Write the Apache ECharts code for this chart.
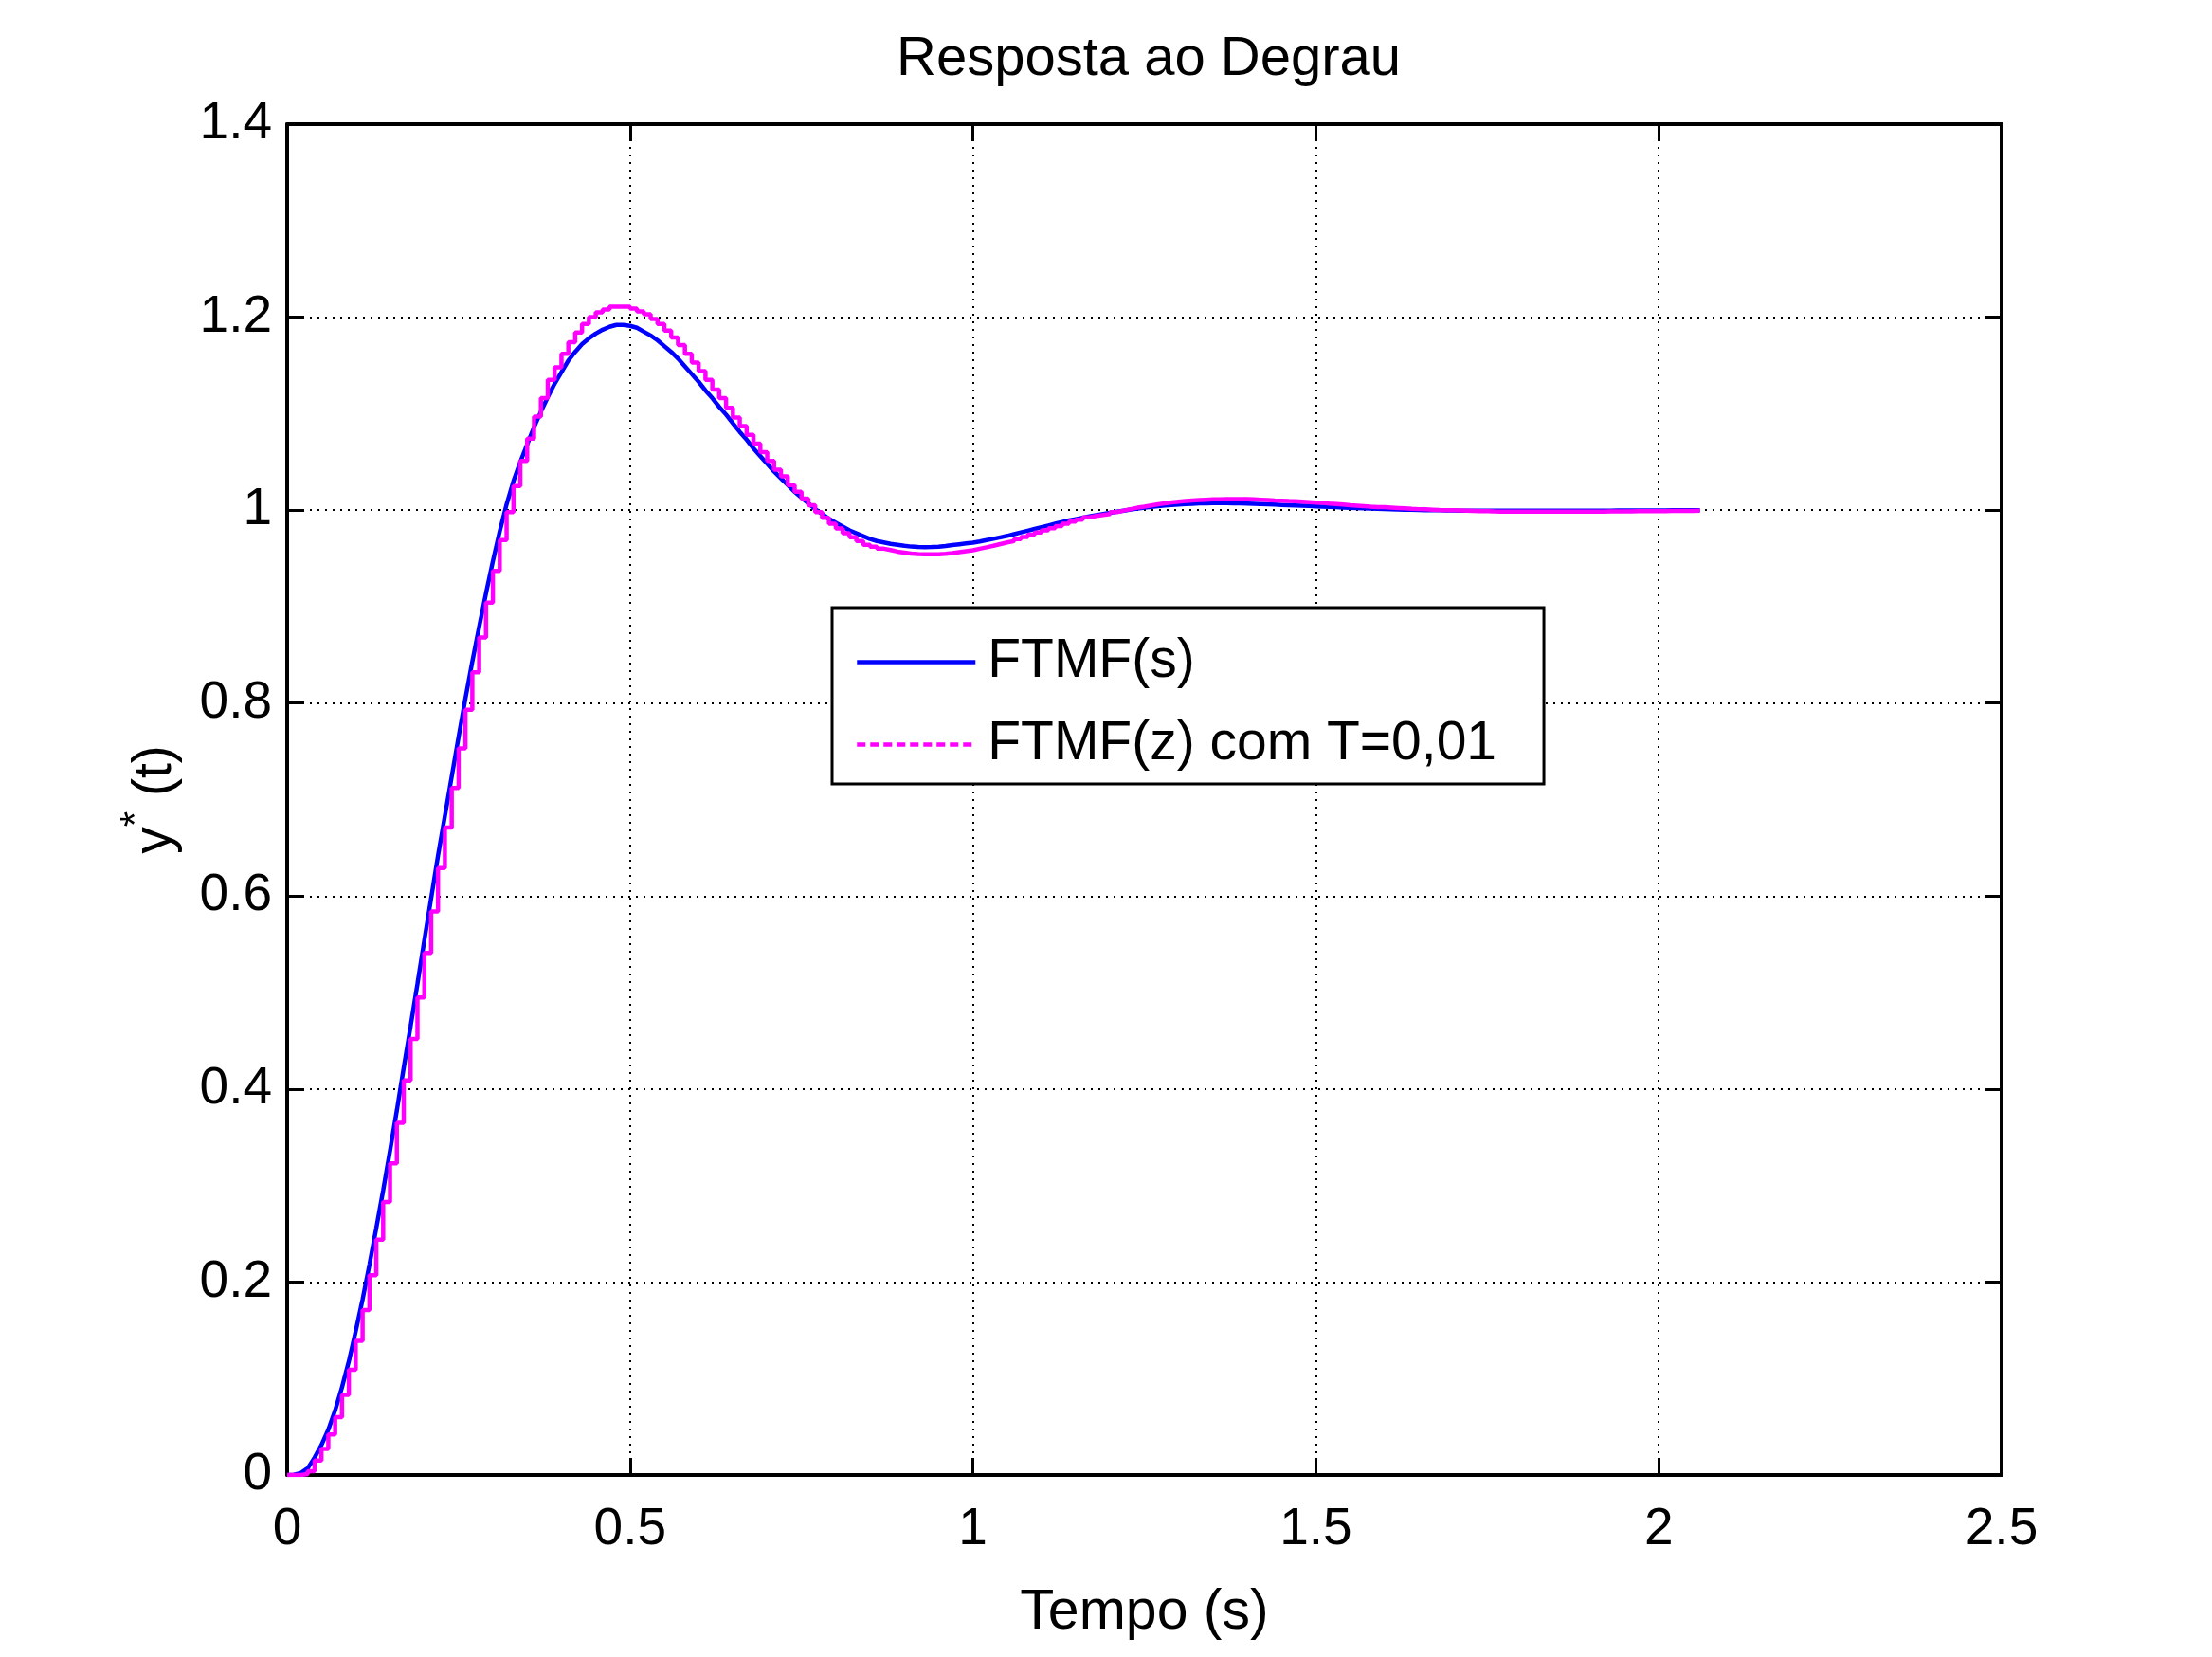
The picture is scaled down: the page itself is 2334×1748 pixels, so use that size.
<!DOCTYPE html>
<html><head><meta charset="utf-8">
<script src="https://cdn.jsdelivr.net/npm/echarts@6/dist/echarts.min.js"></script>
<style>html,body{margin:0;padding:0;background:#fff}#c{width:2334px;height:1748px}</style>
</head><body><div id="c"></div>
<script>
// Sampling period of the discrete response (from legend "T=0,01")
const sampleT = 0.01;

// Axis ticks
const xTicks = [0, 0.5, 1, 1.5, 2, 2.5];
const yTicks = [0, 0.2, 0.4, 0.6, 0.8, 1, 1.2, 1.4];

// Series names
const seriesNames = ['FTMF(s)', 'FTMF(z) com T=0,01'];

// Continuous response y(t), read at t = k*0.01, k = 0..206
const ftmfS = [
  0,0.0003,0.002,0.007,0.018,0.031,0.047,0.067,0.091,0.118,
  0.149,0.182,0.218,0.256,0.295,0.336,0.378,0.422,0.465,0.509,
  0.554,0.598,0.642,0.683,0.724,0.765,0.805,0.843,0.879,0.914,
  0.947,0.978,1.006,1.030,1.050,1.068,1.086,1.102,1.117,1.131,
  1.143,1.155,1.164,1.172,1.178,1.183,1.187,1.190,1.192,1.192,
  1.191,1.189,1.185,1.181,1.176,1.170,1.164,1.157,1.149,1.141,
  1.133,1.124,1.116,1.107,1.099,1.090,1.081,1.073,1.064,1.056,
  1.048,1.040,1.033,1.026,1.019,1.013,1.007,1.001,0.996,0.991,
  0.987,0.983,0.979,0.976,0.973,0.970,0.968,0.9665,0.965,0.964,
  0.963,0.9622,0.9618,0.9617,0.9618,0.962,0.9628,0.9638,0.9646,0.9654,
  0.9662,0.9674,0.9689,0.9703,0.9718,0.9733,0.9751,0.9769,0.9787,0.9805,
  0.9823,0.9841,0.9859,0.9877,0.9893,0.9907,0.9921,0.9935,0.9948,0.996,
  0.9972,0.9984,0.9995,1.0006,1.0016,1.0025,1.0033,1.0041,1.0048,1.0054,
  1.0059,1.0063,1.0066,1.0069,1.0071,1.0072,1.0072,1.0072,1.0071,1.007,
  1.0068,1.0066,1.0063,1.006,1.0057,1.0054,1.0051,1.0048,1.0045,1.0042,
  1.0039,1.0036,1.0033,1.003,1.0027,1.0024,1.0021,1.0018,1.0015,1.0013,
  1.0011,1.0009,1.0007,1.0005,1.0003,1.0001,1.0,0.9999,0.9998,0.9997,
  0.9996,0.9995,0.9995,0.9994,0.9994,0.9994,0.9993,0.9993,0.9993,0.9993,
  0.9993,0.9993,0.9993,0.9993,0.9993,0.9993,0.9994,0.9994,0.9994,0.9994,
  0.9995,0.9995,0.9995,0.9995,0.9996,0.9996,0.9996,0.9996,0.9997,0.9997,
  0.9997,0.9997,0.9998,0.9998,0.9998,0.9998,0.9998
];

// Discrete response y[k], k = 0..206 (held with stairs)
const ftmfZ = [
  0,0,0.001,0.004,0.015,0.027,0.042,0.060,0.083,0.109,
  0.139,0.171,0.207,0.244,0.283,0.323,0.365,0.409,0.452,0.495,
  0.541,0.584,0.629,0.671,0.712,0.753,0.793,0.832,0.868,0.904,
  0.937,0.969,0.998,1.025,1.051,1.074,1.097,1.116,1.135,1.148,
  1.162,1.174,1.184,1.193,1.200,1.205,1.208,1.211,1.211,1.211,
  1.209,1.206,1.203,1.198,1.193,1.186,1.179,1.171,1.162,1.153,
  1.144,1.135,1.125,1.116,1.106,1.096,1.087,1.078,1.069,1.060,
  1.051,1.042,1.035,1.026,1.019,1.012,1.005,0.998,0.992,0.986,
  0.981,0.976,0.972,0.968,0.964,0.962,0.960,0.9586,0.957,0.956,
  0.955,0.9545,0.9543,0.9542,0.9542,0.9548,0.9555,0.9565,0.9575,0.9584,
  0.960,0.9615,0.963,0.9648,0.9665,0.968,0.970,0.9722,0.9745,0.9768,
  0.979,0.9812,0.9835,0.986,0.988,0.990,0.9925,0.994,0.995,0.996,
  0.998,0.9995,1.001,1.0025,1.0036,1.0048,1.006,1.007,1.008,1.0088,
  1.0094,1.010,1.0104,1.0108,1.0111,1.0113,1.0115,1.0115,1.0115,1.0114,
  1.0112,1.0108,1.0104,1.010,1.0097,1.0094,1.0092,1.0088,1.0083,1.0078,
  1.0074,1.0068,1.0063,1.0057,1.0051,1.0046,1.0041,1.0036,1.0032,1.003,
  1.0026,1.0022,1.0018,1.0013,1.001,1.0008,1.0005,1.0002,1.000,0.9998,
  0.9996,0.9994,0.9992,0.999,0.9988,0.9986,0.9985,0.9984,0.9984,0.9984,
  0.9984,0.9984,0.9984,0.9984,0.9984,0.9984,0.9984,0.9984,0.9984,0.9984,
  0.9984,0.9985,0.9986,0.9986,0.9987,0.9987,0.9988,0.9988,0.9989,0.9989,
  0.999,0.9991,0.9991,0.9992,0.9992,0.9993,0.9993
];

const FONT = '"Liberation Sans", Arial, Helvetica, sans-serif';
const toPairs = arr => arr.map((v, k) => [+(k * sampleT).toFixed(2), v]);

const chart = echarts.init(document.getElementById('c'), null, {renderer: 'canvas'});

const axisLineStyle = {show: true, onZero: false, lineStyle: {color: '#000', width: 4}};
const tickStyle = {show: true, inside: true, length: 18, lineStyle: {color: '#000', width: 3}};
const gridLine = {show: true, lineStyle: {color: '#000', width: 2, type: [2, 6]}};

chart.setOption({
  animation: false,
  backgroundColor: '#fff',
  title: {
    text: 'Resposta ao Degrau',
    left: 1207, top: 29, textAlign: 'center',
    textStyle: {fontFamily: FONT, fontSize: 58, fontWeight: 'normal', color: '#000'}
  },
  grid: {left: 303, right: 222, top: 131, bottom: 192, containLabel: false},
  legend: {
    orient: 'vertical',
    left: 878, top: 641,
    padding: [27, 50, 11, 24],
    itemWidth: 125, itemHeight: 14, itemGap: 26,
    backgroundColor: '#fff', borderColor: '#000', borderWidth: 3,
    itemStyle: {opacity: 0},
    textStyle: {fontFamily: FONT, fontSize: 57, color: '#000', lineHeight: 61, padding: [0, 0, 0, 8]},
    data: [
      {name: seriesNames[0], itemStyle: {opacity: 0}, lineStyle: {color: '#0000ff', width: 4.5, type: 'solid'}},
      {name: seriesNames[1], itemStyle: {opacity: 0}, lineStyle: {color: '#ff00ff', width: 4.5, type: [9, 5]}}
    ]
  },
  xAxis: [{
    type: 'value', min: xTicks[0], max: xTicks[xTicks.length - 1], interval: 0.5,
    position: 'bottom',
    axisLine: axisLineStyle, axisTick: tickStyle, splitLine: gridLine,
    axisLabel: {fontFamily: FONT, fontSize: 55, color: '#000', margin: 30},
    name: 'Tempo (s)', nameLocation: 'middle', nameGap: 116,
    nameTextStyle: {fontFamily: FONT, fontSize: 59, color: '#000'}
  }, {
    type: 'value', min: xTicks[0], max: xTicks[xTicks.length - 1], interval: 0.5,
    position: 'top',
    axisLine: axisLineStyle, axisTick: tickStyle, splitLine: {show: false},
    axisLabel: {show: false}
  }],
  yAxis: [{
    type: 'value', min: yTicks[0], max: yTicks[yTicks.length - 1], interval: 0.2,
    position: 'left',
    axisLine: axisLineStyle, axisTick: tickStyle, splitLine: gridLine,
    axisLabel: {fontFamily: FONT, fontSize: 55, color: '#000', margin: 16},
    name: '{n|y}{s|*}{n| (t)}', nameLocation: 'middle', nameGap: 110, nameRotate: 90,
    nameTextStyle: {
      rich: {
        n: {fontFamily: FONT, fontSize: 57, color: '#000', lineHeight: 70, verticalAlign: 'bottom'},
        s: {fontFamily: FONT, fontSize: 42, color: '#000', lineHeight: 42, verticalAlign: 'top'}
      }
    }
  }, {
    type: 'value', min: yTicks[0], max: yTicks[yTicks.length - 1], interval: 0.2,
    position: 'right',
    axisLine: axisLineStyle, axisTick: tickStyle, splitLine: {show: false},
    axisLabel: {show: false}
  }],
  series: [{
    name: seriesNames[0], type: 'line', data: toPairs(ftmfS),
    symbol: 'none', showSymbol: false, smooth: false,
    lineStyle: {color: '#0000ff', width: 4.5}, itemStyle: {color: '#0000ff'},
    z: 2
  }, {
    name: seriesNames[1], type: 'line', step: 'end', data: toPairs(ftmfZ),
    symbol: 'none', showSymbol: false,
    lineStyle: {color: '#ff00ff', width: 4.5}, itemStyle: {color: '#ff00ff'},
    z: 3
  }]
});
</script>
</body></html>
